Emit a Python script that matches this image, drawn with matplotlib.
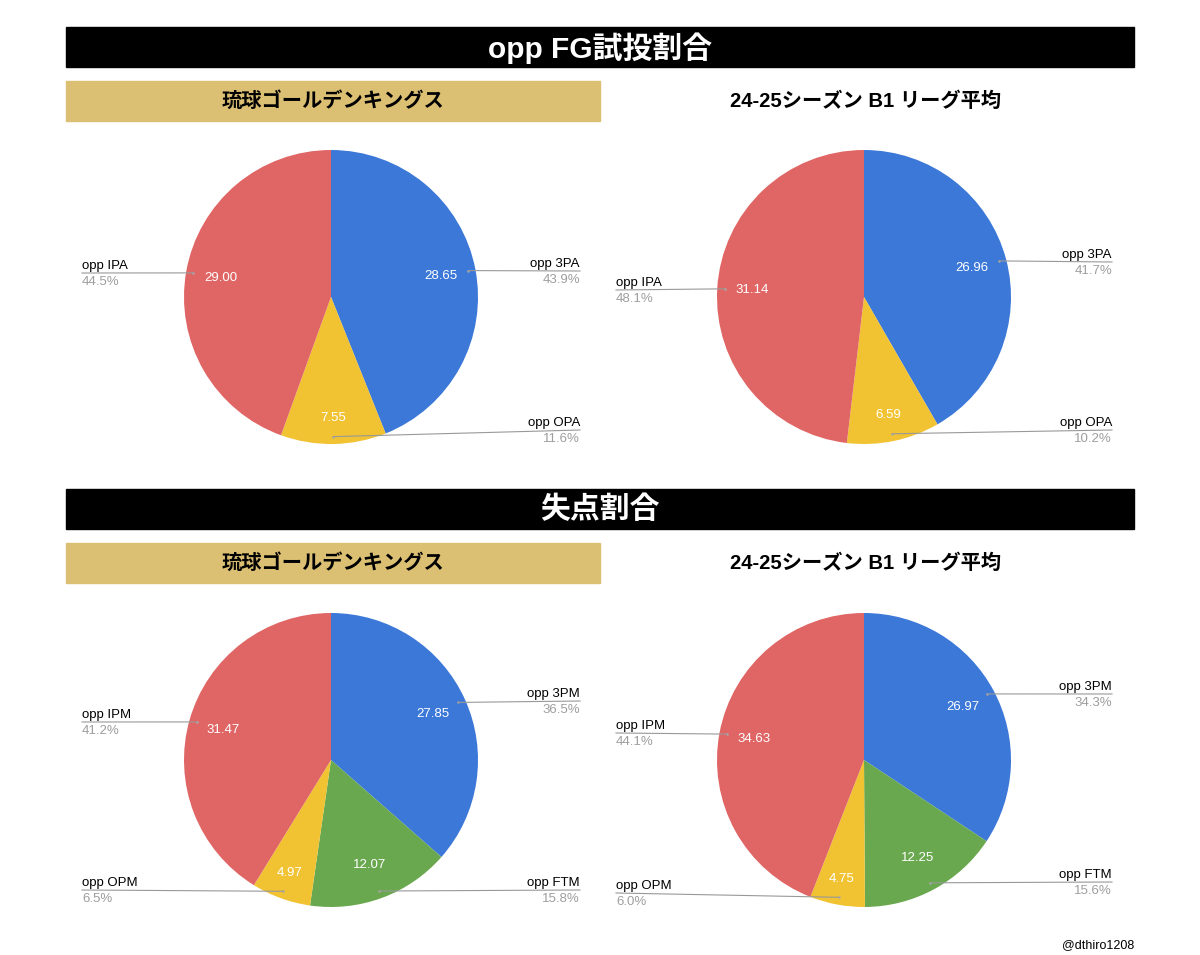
import numpy as np
import matplotlib
matplotlib.use("Agg")
import matplotlib.pyplot as plt
from matplotlib.patches import Rectangle

plt.rcParams['font.family'] = ['Liberation Sans', 'Noto Sans CJK JP', 'DejaVu Sans']

# ---------------- data ----------------
section_titles = ["opp FG試投割合", "失点割合"]
team_title = "琉球ゴールデンキングス"
league_title = "24-25シーズン B1 リーグ平均"

fga_labels = ["opp 3PA", "opp OPA", "opp IPA"]
fga_team = [28.65, 7.55, 29.00]
fga_league = [26.96, 6.59, 31.14]

pts_labels = ["opp 3PM", "opp FTM", "opp OPM", "opp IPM"]
pts_team = [27.85, 12.07, 4.97, 31.47]
pts_league = [26.97, 12.25, 4.75, 34.63]

fga_colors = ["#3c78d8", "#f1c232", "#e06666"]
pts_colors = ["#3c78d8", "#6aa84f", "#f1c232", "#e06666"]

W, H = 1200, 955
fig = plt.figure(figsize=(W / 100, H / 100), dpi=100)
ov = fig.add_axes([0, 0, 1, 1])
ov.set_xlim(0, W)
ov.set_ylim(H, 0)
ov.axis('off')
ov.set_zorder(10)
ov.patch.set_alpha(0)

# header bars
for y0, t in zip([27, 489], section_titles):
    ov.add_patch(Rectangle((66, y0), 1068, 40, color='black', zorder=1))
    ov.text(600, y0 + 21, t, color='white', fontsize=21.5, fontweight='bold',
            ha='center', va='center', zorder=2)
for y0 in [81, 543]:
    ov.add_patch(Rectangle((66, y0), 534, 40, color='#dbbf73', zorder=1))
    ov.text(333, y0 + 20, team_title, color='black', fontsize=14.6, fontweight='bold',
            ha='center', va='center', zorder=2)
    ov.text(866, y0 + 20, league_title, color='black', fontsize=14.6, fontweight='bold',
            ha='center', va='center', zorder=2)

R = 147

# label layout: (side, x, line_y) per slice
layouts = {
    'tl': [('r', 580, 271), ('r', 580, 430), ('l', 82, 273)],
    'tr': [('r', 1112, 262), ('r', 1112, 430), ('l', 616, 290)],
    'bl': [('r', 580, 701), ('r', 580, 890), ('l', 82, 890), ('l', 82, 722)],
    'br': [('r', 1112, 694), ('r', 1112, 882), ('l', 616, 893), ('l', 616, 733)],
}

charts = [
    ('tl', 331, 297, fga_team, fga_labels, fga_colors),
    ('tr', 864, 297, fga_league, fga_labels, fga_colors),
    ('bl', 331, 760, pts_team, pts_labels, pts_colors),
    ('br', 864, 760, pts_league, pts_labels, pts_colors),
]

for key, cx, cy, vals, labels, cols in charts:
    ax = fig.add_axes([(cx - R) / W, (H - cy - R) / H, 2 * R / W, 2 * R / H])
    wedges, _ = ax.pie(vals, colors=cols, startangle=90, counterclock=False,
                       radius=1.0, wedgeprops=dict(linewidth=0))
    ax.set_xlim(-1, 1)
    ax.set_ylim(-1, 1)
    ax.axis('off')
    total = sum(vals)
    for w, v, lab, (side, lx, ly) in zip(wedges, vals, labels, layouts[key]):
        mid = np.deg2rad((w.theta1 + w.theta2) / 2)
        frac = v / total
        rd = 0.82 if frac < 0.12 else 0.76
        ax.text(rd * np.cos(mid), rd * np.sin(mid), f"{v:.2f}", color='white',
                fontsize=9.5, ha='center', va='center')
        # anchor point in overlay coordinates
        ap = ax.transData.transform((0.95 * np.cos(mid), 0.95 * np.sin(mid)))
        ax_, ay_ = ov.transData.inverted().transform(ap)
        ov.plot([ax_], [ay_], marker='o', ms=1.8, color='#aaaaaa', mew=0, zorder=3)
        ov.plot([ax_, lx], [ay_, ly], color='#999999', lw=0.8, zorder=3)
        ha = 'right' if side == 'r' else 'left'
        ov.text(lx, ly - 1, lab, fontsize=9.5, color='black', ha=ha, va='bottom')
        ov.text(lx, ly + 3, f"{frac * 100:.1f}%", fontsize=9.5, color='#9e9e9e',
                ha=ha, va='top')

ov.text(1134, 945, "@dthiro1208", fontsize=9, color='black', ha='right', va='center')

fig.savefig("out.png", dpi=100, facecolor='white')
